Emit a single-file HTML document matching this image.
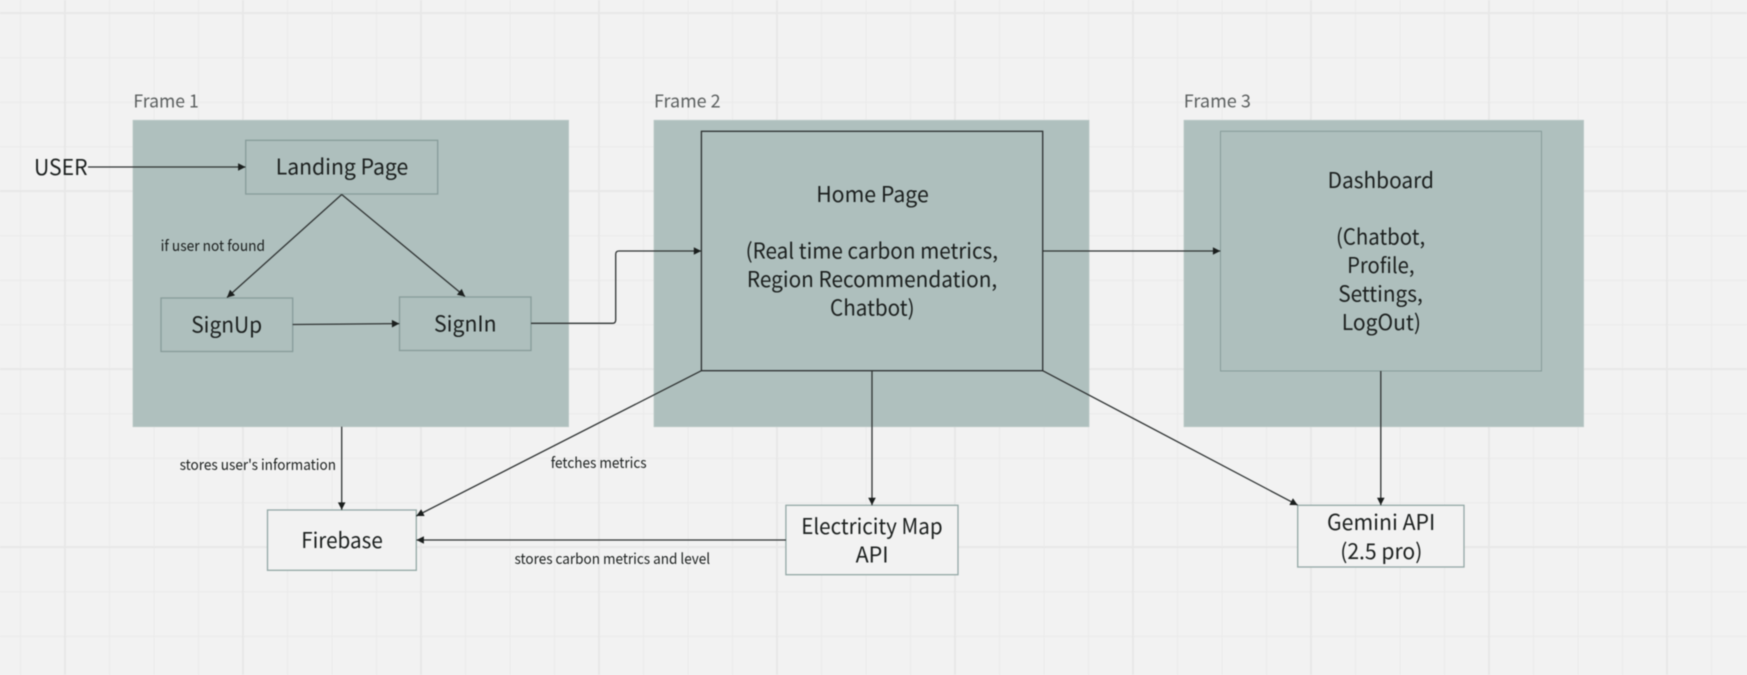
<!DOCTYPE html>
<html><head><meta charset="utf-8"><style>
html,body{margin:0;padding:0;background:#f2f2f2;width:1747px;height:675px;overflow:hidden}
svg{display:block;filter:blur(.4px)}
text{font-family:"Noto Sans CJK JP","Liberation Sans",sans-serif;fill:#1b1f1e}
.b{font-size:21.5px}.s{font-size:14.6px}.f{font-size:18px;fill:#5b5f5f}
.box{fill:#aebfbd;stroke:#879c9a;stroke-width:1.3}
.thin{stroke-width:1}
.ext{fill:#f2f2f2;stroke:#93a8a6;stroke-width:1.3}
.frame{fill:#afc0be;stroke:#bccac8;stroke-width:.8}
.l{fill:none;stroke:#2f3333;stroke-width:1.3}
</style></head><body>
<svg width="1747" height="675" viewBox="0 0 1747 675" xmlns="http://www.w3.org/2000/svg">
<defs>
<pattern id="gm" x="20" y="12.7" width="44.5" height="44.5" patternUnits="userSpaceOnUse"><path d="M.6 0V44.5M0 .6H44.5" fill="none" stroke="#ebebeb" stroke-width="1.3"/></pattern>
<pattern id="gM" x="64" y="12.2" width="178" height="178" patternUnits="userSpaceOnUse"><path d="M.9 0V178M0 .9H178" fill="none" stroke="#e7e7e7" stroke-width="1.8"/></pattern>
<marker id="a" markerUnits="userSpaceOnUse" markerWidth="10" markerHeight="10" refX="9" refY="5" orient="auto"><path d="M1.6 1.2L9 5L1.6 8.8Z" fill="#1b1f1e"/></marker>
</defs>
<rect width="1747" height="675" fill="#f2f2f2"/>
<rect width="1747" height="675" fill="url(#gm)"/>
<rect width="1747" height="675" fill="url(#gM)"/>

<rect class="frame" x="133" y="120.3" width="435.6" height="306.4"/>
<rect class="frame" x="654" y="120.3" width="435" height="306.4"/>
<rect class="frame" x="1184" y="120.3" width="399.6" height="306.4"/>

<text class="f" x="133.4" y="107.5" textLength="65.4" lengthAdjust="spacingAndGlyphs">Frame 1</text>
<text class="f" x="654" y="107.5" textLength="66.6" lengthAdjust="spacingAndGlyphs">Frame 2</text>
<text class="f" x="1183.8" y="107.5" textLength="67.1" lengthAdjust="spacingAndGlyphs">Frame 3</text>

<rect class="box" x="245.7" y="140.3" width="192" height="53.7"/>
<rect class="box" x="161" y="298" width="131.7" height="53.5"/>
<rect class="box" x="399.5" y="297" width="131.5" height="53.5"/>
<rect x="701.4" y="131.3" width="341.3" height="239.4" fill="#aebfbd" stroke="#2b2f2f" stroke-width="1.3"/>
<rect class="box thin" x="1220.5" y="131.3" width="321" height="239.7"/>
<rect class="ext" x="267.5" y="510" width="148.8" height="60.3"/>
<rect class="ext" x="785.9" y="505.3" width="172.1" height="69.4"/>
<rect class="ext" x="1297.7" y="505.3" width="166.3" height="61.7"/>

<path class="l" marker-end="url(#a)" d="M88 167H245.5"/>
<path class="l" marker-end="url(#a)" d="M341.7 194.5L227 297.5"/>
<path class="l" marker-end="url(#a)" d="M341.7 194.5L465 296.5"/>
<path class="l" marker-end="url(#a)" d="M292.7 324.5L399.3 323.6"/>
<path class="l" marker-end="url(#a)" d="M531 323.3H612.5Q615.7 323.3 615.7 320V254.3Q615.7 251 619 251H701.2"/>
<path class="l" marker-end="url(#a)" d="M1042.7 251H1220.3"/>
<path class="l" marker-end="url(#a)" d="M341.7 426.7V509.8"/>
<path class="l" marker-end="url(#a)" d="M701.4 370.7L416.3 516"/>
<path class="l" marker-end="url(#a)" d="M872 370.7V505.1"/>
<path class="l" marker-end="url(#a)" d="M1042.7 370.7L1297.7 505.1"/>
<path class="l" marker-end="url(#a)" d="M1380.8 371V505.1"/>
<path class="l" marker-end="url(#a)" d="M785.9 540H416.5"/>

<text class="b" x="34" y="175" textLength="53.5" lengthAdjust="spacingAndGlyphs">USER</text>
<text class="b" x="275.7" y="174.6" textLength="132.6" lengthAdjust="spacingAndGlyphs">Landing Page</text>
<text class="b" x="191.2" y="332.6" textLength="71" lengthAdjust="spacingAndGlyphs">SignUp</text>
<text class="b" x="434" y="331.6" textLength="62.6" lengthAdjust="spacingAndGlyphs">SignIn</text>
<text class="s" x="160.6" y="250.8" textLength="104.4" lengthAdjust="spacingAndGlyphs">if user not found</text>

<text class="b" x="816.2" y="202" textLength="112.6" lengthAdjust="spacingAndGlyphs">Home Page</text>
<text class="b" x="745.6" y="258.6" textLength="252.4" lengthAdjust="spacingAndGlyphs">(Real time carbon metrics,</text>
<text class="b" x="746.9" y="287" textLength="250.3" lengthAdjust="spacingAndGlyphs">Region Recommendation,</text>
<text class="b" x="830" y="315.6" textLength="84.6" lengthAdjust="spacingAndGlyphs">Chatbot)</text>

<text class="b" x="1327.6" y="188" textLength="106.4" lengthAdjust="spacingAndGlyphs">Dashboard</text>
<text class="b" x="1336" y="244.6" textLength="89.2" lengthAdjust="spacingAndGlyphs">(Chatbot,</text>
<text class="b" x="1347.1" y="273" textLength="67.4" lengthAdjust="spacingAndGlyphs">Profile,</text>
<text class="b" x="1338.2" y="301.6" textLength="84.6" lengthAdjust="spacingAndGlyphs">Settings,</text>
<text class="b" x="1341.7" y="330" textLength="79.3" lengthAdjust="spacingAndGlyphs">LogOut)</text>

<text class="b" x="301.2" y="548" textLength="81.6" lengthAdjust="spacingAndGlyphs">Firebase</text>
<text class="b" x="801.2" y="534.2" textLength="141.4" lengthAdjust="spacingAndGlyphs">Electricity Map</text>
<text class="b" x="855.6" y="562.6" textLength="33" lengthAdjust="spacingAndGlyphs">API</text>
<text class="b" x="1327" y="530.2" textLength="108.2" lengthAdjust="spacingAndGlyphs">Gemini API</text>
<text class="b" x="1340.2" y="558.8" textLength="82.2" lengthAdjust="spacingAndGlyphs">(2.5 pro)</text>

<text class="s" x="179.6" y="470" textLength="156.4" lengthAdjust="spacingAndGlyphs">stores user's information</text>
<text class="s" x="550.8" y="468" textLength="95.8" lengthAdjust="spacingAndGlyphs">fetches metrics</text>
<text class="s" x="514.5" y="564" textLength="195.6" lengthAdjust="spacingAndGlyphs">stores carbon metrics and level</text>
</svg>
</body></html>
